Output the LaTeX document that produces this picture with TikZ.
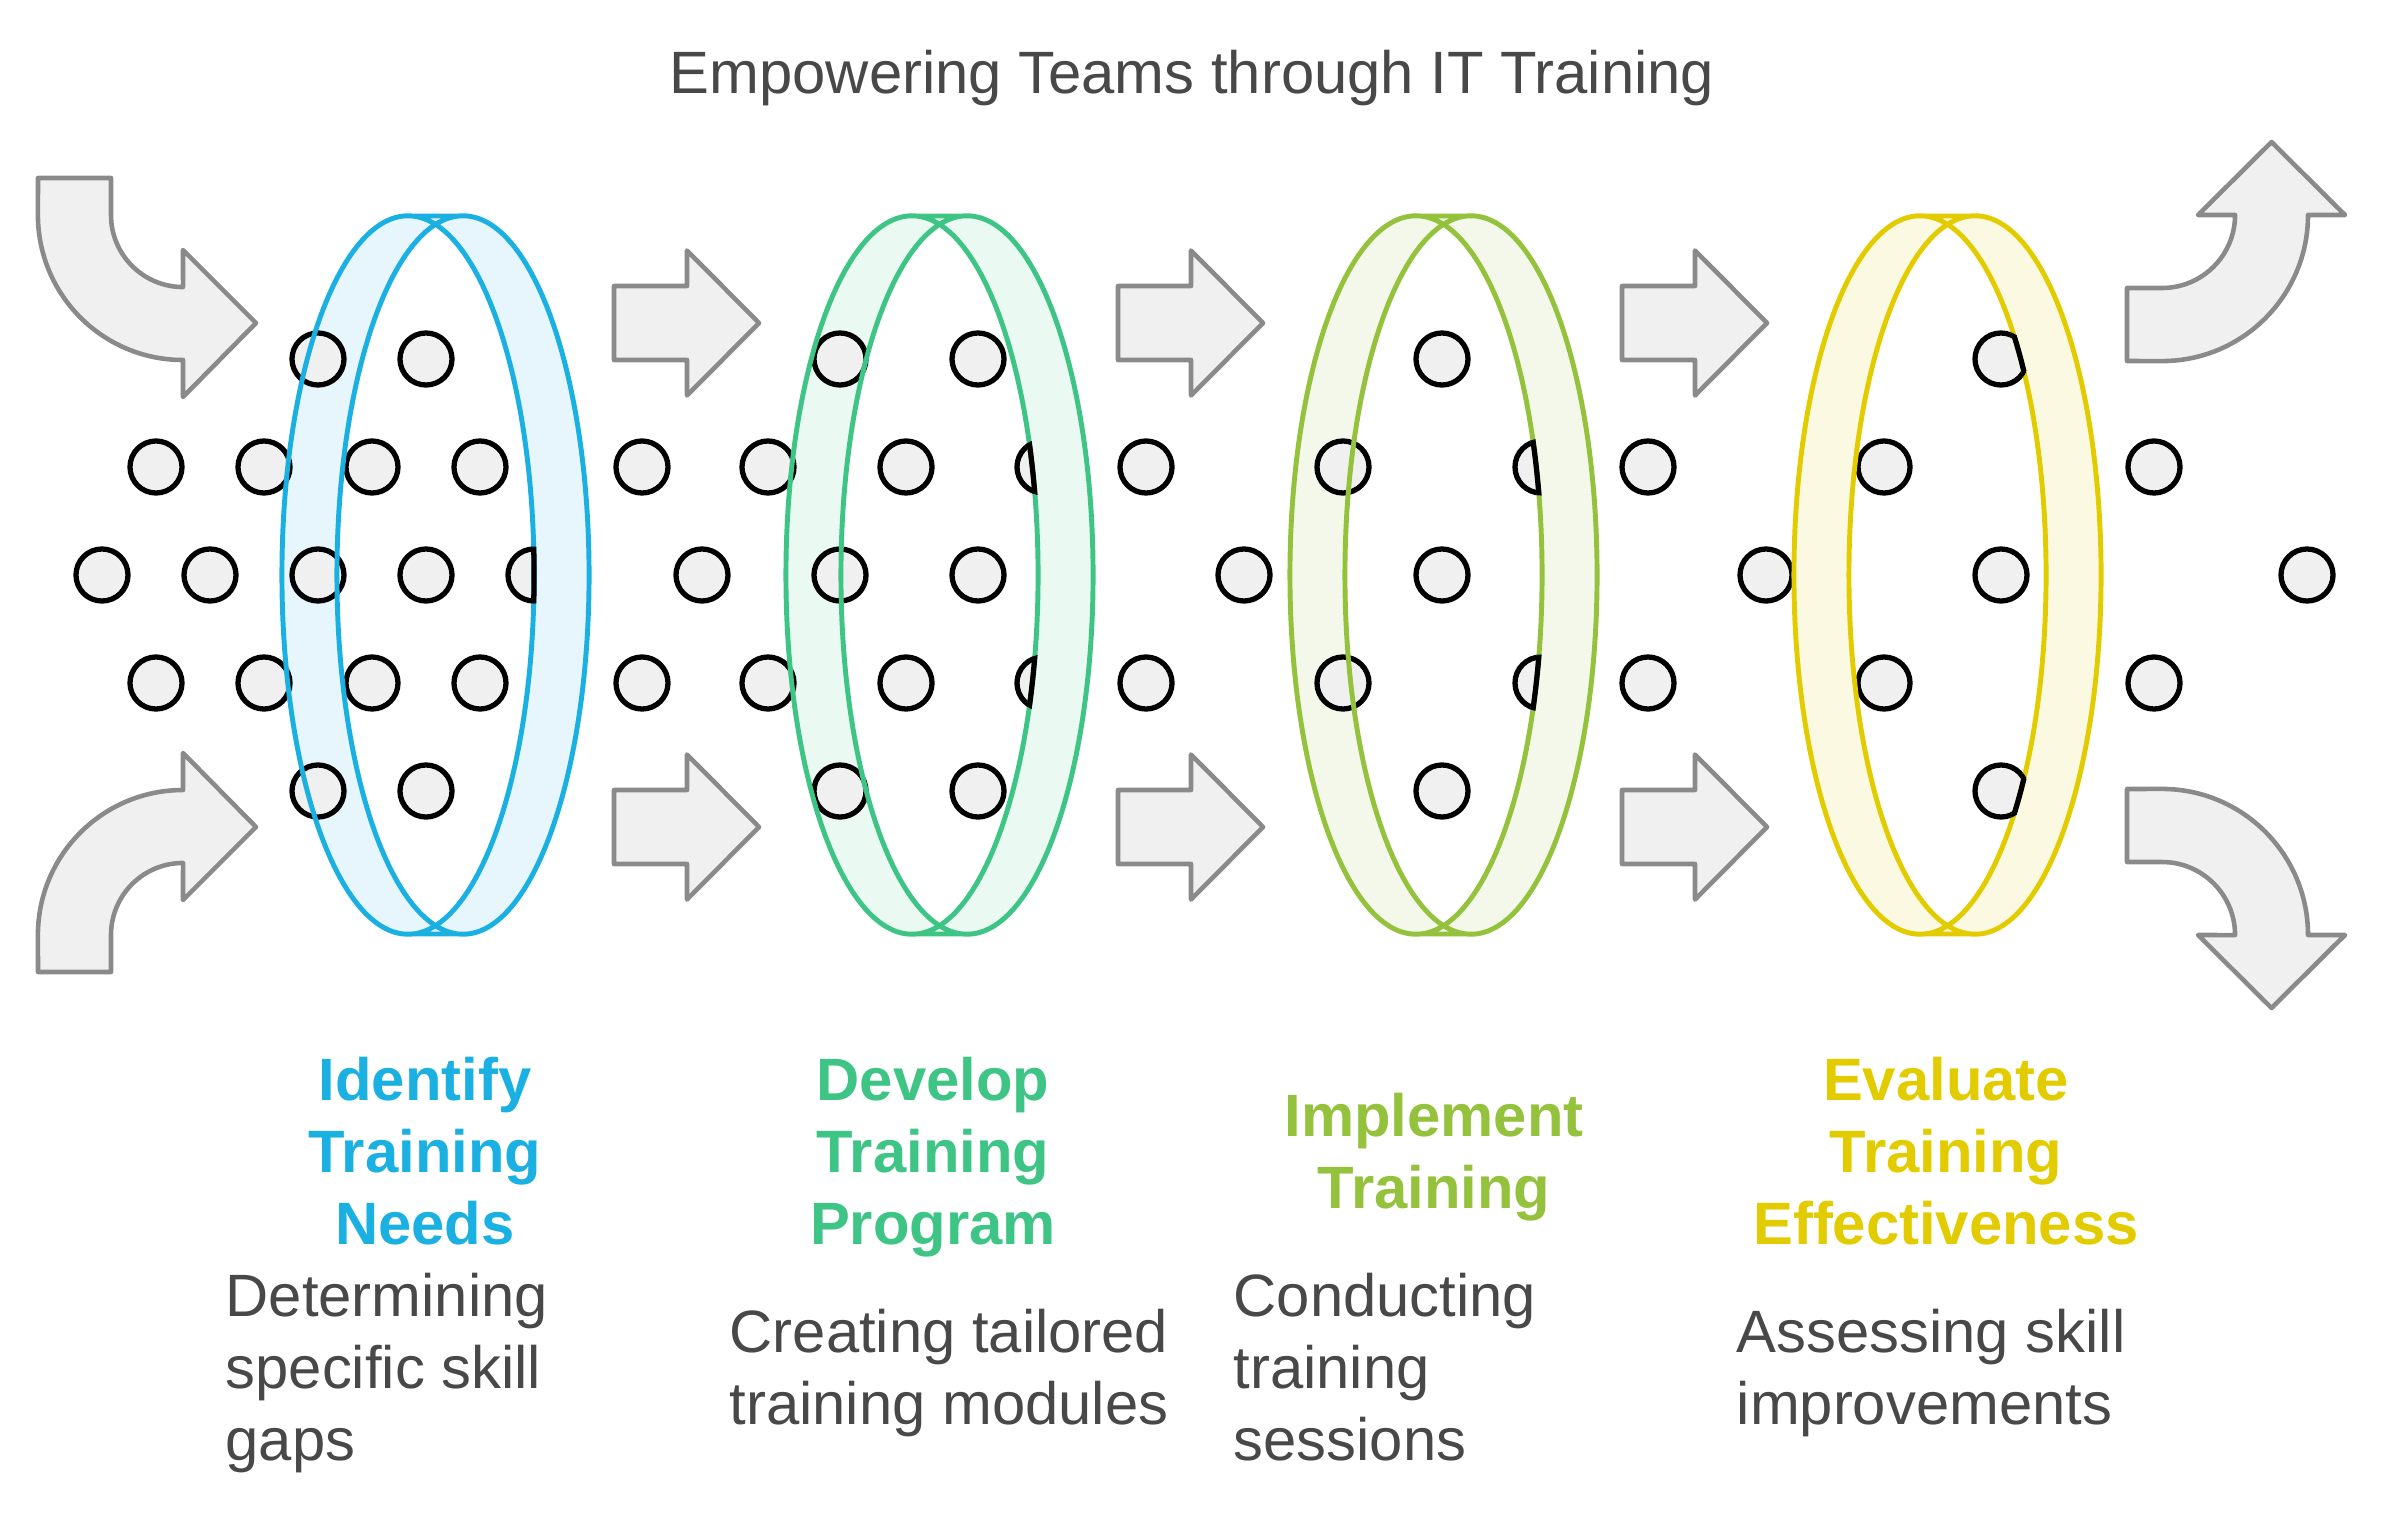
\documentclass[tikz,border=0pt]{standalone}
\usepackage{fontspec}
\setmainfont{Liberation Sans}
\usetikzlibrary{positioning}
\definecolor{TrBlue}{RGB}{27,176,226}
\definecolor{TrGreen}{RGB}{62,197,134}
\definecolor{TrLime}{RGB}{148,194,60}
\definecolor{TrYellow}{RGB}{226,204,0}
\definecolor{TxtGray}{RGB}{72,72,72}
\definecolor{ArrGray}{RGB}{138,138,138}
\definecolor{DotGray}{RGB}{240,240,240}
\begin{document}
\begin{tikzpicture}[x=0.01cm, y=-0.01cm,
    dot/.style={circle, draw=black, fill=DotGray, line width=1.5pt,
                minimum size=0.52cm, inner sep=0pt},
    blk/.style={draw=ArrGray, fill=DotGray, line width=1.3pt, line join=round},
    head/.style={font=\fontsize{17}{20.5}\selectfont\bfseries, align=center, inner sep=0pt},
    desc/.style={font=\fontsize{17}{20.5}\selectfont, text=TxtGray, align=left,
                 anchor=west, inner sep=0pt},
    ring/.style={x radius=1.26cm, y radius=3.59cm}
  ]
  \useasboundingbox (0,0) rectangle (2382,1512);

  \node[font=\fontsize{17}{20.5}\selectfont, text=TxtGray, anchor=base, inner sep=0pt]
        (title) at (1192,93) {Empowering Teams through IT Training};

  % front part of the rings
  \foreach \cx/\col in {408/TrBlue, 912/TrGreen, 1416/TrLime, 1920/TrYellow}{
    \fill[\col!11, even odd rule] (\cx,575) ellipse[ring] (\cx+55,575) ellipse[ring];
  }

  % curved arrows
  \draw[blk] (38,178) -- (111,178) -- (111,215) arc[start angle=180, end angle=270, radius=0.72cm]
        -- (183,250) -- (256,323) -- (183,397) -- (183,360)
        arc[start angle=270, end angle=180, radius=1.45cm] -- cycle;
  \draw[blk] (38,972) -- (111,972) -- (111,935) arc[start angle=180, end angle=90, radius=0.72cm]
        -- (183,900) -- (256,827) -- (183,753) -- (183,790)
        arc[start angle=90, end angle=180, radius=1.45cm] -- cycle;
  \draw[blk] (2127,288) -- (2162,288) arc[start angle=270, end angle=360, radius=0.73cm]
        -- (2198,215) -- (2271.5,142) -- (2345,215) -- (2308,215)
        arc[start angle=0, end angle=-90, radius=1.46cm] -- (2127,361) -- cycle;
  \draw[blk] (2127,862) -- (2162,862) arc[start angle=90, end angle=0, radius=0.73cm]
        -- (2198,935) -- (2271.5,1008) -- (2345,935) -- (2308,935)
        arc[start angle=0, end angle=90, radius=1.46cm] -- (2127,789) -- cycle;

  % straight arrows
  \foreach \ax in {614, 1118, 1622}{
    \foreach \ay in {323, 827}{
      \draw[blk] (\ax,\ay-37) -- (\ax+73,\ay-37) -- (\ax+73,\ay-72.5) -- (\ax+145,\ay)
            -- (\ax+73,\ay+72.5) -- (\ax+73,\ay+37) -- (\ax,\ay+37) -- cycle;
    }
  }

  % dots
  \foreach \x/\y [count=\i] in {318/359, 426/359, 156/467, 264/467, 372/467, 480/467,
      102/575, 210/575, 318/575, 426/575, 534/575, 156/683, 264/683, 372/683, 480/683,
      318/791, 426/791,
      840/359, 978/359, 642/467, 768/467, 906/467, 1043/467, 1146/467,
      702/575, 840/575, 978/575, 642/683, 768/683, 906/683, 1043/683, 1146/683,
      840/791, 978/791,
      1442/359, 1343/467, 1541/467, 1648/467, 1244/575, 1442/575,
      1343/683, 1541/683, 1648/683, 1442/791,
      2001/359, 1884/467, 2154/467, 1766/575, 2001/575, 2307/575,
      1884/683, 2154/683, 2001/791}{
    \node[dot] (dot\i) at (\x,\y) {};
  }

  % back part of the rings and outlines
  \foreach \cx/\col in {408/TrBlue, 912/TrGreen, 1416/TrLime, 1920/TrYellow}{
    \fill[\col!11, even odd rule] (\cx,216) -- (\cx+55,216)
        arc[start angle=90, end angle=-90, ring] -- (\cx,934)
        arc[start angle=270, end angle=90, ring] -- cycle
        (\cx,575) ellipse[ring];
    \draw[\col, line width=1.4pt] (\cx,575) ellipse[ring] (\cx+55,575) ellipse[ring]
        (\cx,216) -- (\cx+55,216) (\cx,934) -- (\cx+55,934);
  }

  % cut edge of the dots behind a ring
  \foreach \d/\cx in {dot11/408, dot23/912, dot31/912, dot37/1416, dot42/1416,
                      dot45/1920, dot53/1920}{
    \begin{scope}
      \clip (\d.center) circle[radius=0.285cm];
      \draw[line width=1.5pt] (\cx,575) ellipse[ring];
    \end{scope}
  }

  \node[head, text=TrBlue]   (needs)  at (425,1151)  {Identify\\Training\\Needs};
  \node[head, text=TrGreen]  (prog)   at (933,1157)  {Develop\\Training\\Program};
  \node[head, text=TrLime]   (impl)   at (1434,1157) {Implement\\Training};
  \node[head, text=TrYellow] (eval)   at (1946,1151) {Evaluate\\Training\\Effectiveness};

  \node[desc] (needsdesc) at (225,1373)  {Determining\\specific skill\\gaps};
  \node[desc] (progdesc)  at (729,1373)  {Creating tailored\\training modules};
  \node[desc] (impldesc)  at (1233,1367) {Conducting\\training\\sessions};
  \node[desc] (evaldesc)  at (1736,1373) {Assessing skill\\improvements};
\end{tikzpicture}
\end{document}
